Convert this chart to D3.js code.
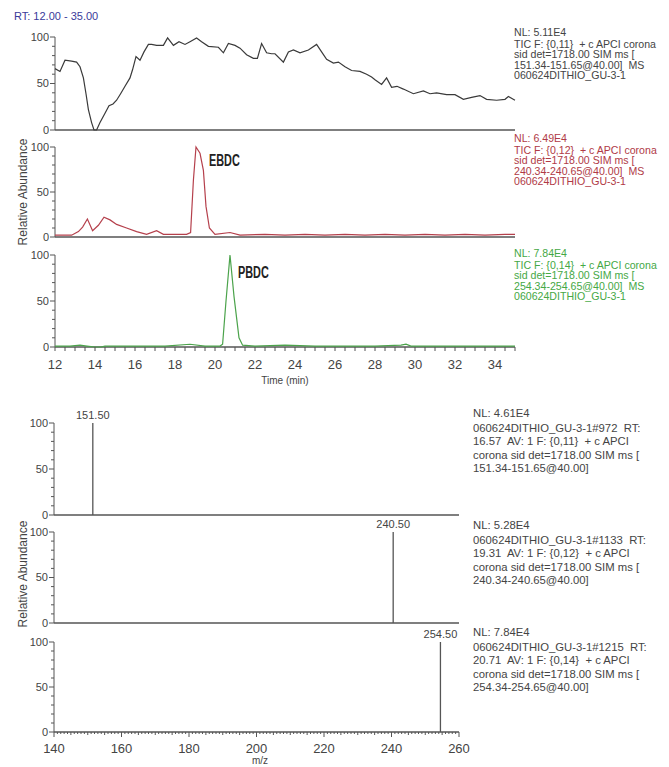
<!DOCTYPE html>
<meta charset="utf-8">
<html>
<head>
<style>
  body { margin: 0; background: #fff; }
  text { font-family: "Liberation Sans", Arial, sans-serif; white-space: pre; }
</style>
<script src="https://d3js.org/d3.v7.min.js"></script>
</head>
<body>
<script>
// ---- data ----
// TIC chromatogram (time min, relative abundance)
var ticSeries = [[12,66],[12.25,63],[12.5,75],[12.83,74],[13.08,73],[13.25,68],[13.42,56],[13.55,39],[13.67,22],[13.83,8],[13.95,0],[14.08,0],
  [14.25,8],[14.5,18],[14.7,26],[14.9,28],[15.08,32],[15.28,39],[15.5,47],[15.75,56],[15.88,65],[16.05,79],[16.25,75],[16.45,84],[16.67,92],
  [16.83,92],[17.08,91],[17.42,91],[17.63,99],[17.92,91],[18.2,95],[18.5,92],[18.75,95],[19.08,99],[19.33,95],[19.67,90],[20.17,89],[20.42,83],
  [20.67,93],[21.0,91],[21.25,88],[21.58,81],[21.92,77],[22.12,77],[22.33,93],[22.58,83],[22.83,82],[23.0,82],[23.42,73],[23.67,84],[23.92,86],
  [24.25,83],[24.67,86],[25.08,92],[25.33,84],[25.58,76],[25.92,72],[26.17,73],[26.5,68],[26.83,64],[27.25,63],[27.58,60],[27.83,57],[28.0,54],
  [28.33,49],[28.58,56],[28.83,46],[29.1,47],[29.42,44],[29.92,39],[30.42,42],[30.75,39],[31.08,40],[31.58,38],[32.0,38],[32.42,33],[32.83,35],
  [33.25,37],[33.58,33],[34.08,32],[34.5,33],[34.67,36],[35.0,32]];
// EBDC channel
var ebdcSeries = [[12,2],[12.83,2],[13.17,6],[13.38,11],[13.62,20],[13.88,7],[14.17,13],[14.45,22],[14.75,19],[15.08,14],[15.58,10],[16.08,6],
  [16.58,3],[17.08,7],[17.42,3],[18.58,3],[18.78,5],[18.92,63],[19.05,100],[19.25,93],[19.42,74],[19.55,34],[19.72,10],[20.0,3],[20.75,5],
  [21.25,2],[22.5,3],[23.5,2],[24.5,3],[25.5,2],[26.5,3],[27.5,2],[28.5,3],[29.5,2],[30.5,3],[31.5,2],[32.5,3],[33.5,2],[34.5,3],[35.0,3]];
// PBDC channel
var pbdcSeries = [[12,1],[12.75,1],[13.25,2],[13.6,1],[14.0,0],[14.3,0],[14.5,1],[16.0,1],[17.5,1],[18.75,3],[19.5,1],[20.25,1],[20.38,3],
  [20.55,50],[20.75,100],[20.95,55],[21.2,10],[21.38,2],[22.0,1],[23.5,2],[25.0,1],[26.5,1],[28.0,1],[29.3,2],[29.55,3],[29.8,1],[31.0,1],
  [33.0,1],[35.0,1]];

// mass spectra: one stick each
var specMz = [151.50, 240.50, 254.50];
var specAbund = [100, 100, 100];

// peak annotations: [panel, time, abundance, text]
var peakNotes = [[1, 19.7, 79, "EBDC"], [2, 21.15, 75, "PBDC"]];
var chromInfo = [
  ["NL: 5.11E4", "TIC F: {0,11}  + c APCI corona", "sid det=1718.00 SIM ms [", "151.34-151.65@40.00]  MS", "060624DITHIO_GU-3-1"],
  ["NL: 6.49E4", "TIC F: {0,12}  + c APCI corona", "sid det=1718.00 SIM ms [", "240.34-240.65@40.00]  MS", "060624DITHIO_GU-3-1"],
  ["NL: 7.84E4", "TIC F: {0,14}  + c APCI corona", "sid det=1718.00 SIM ms [", "254.34-254.65@40.00]  MS", "060624DITHIO_GU-3-1"]
];
var specInfo = [
  ["NL: 4.61E4", "060624DITHIO_GU-3-1#972  RT:", "16.57  AV: 1 F: {0,11}  + c APCI", "corona sid det=1718.00 SIM ms [", "151.34-151.65@40.00]"],
  ["NL: 5.28E4", "060624DITHIO_GU-3-1#1133  RT:", "19.31  AV: 1 F: {0,12}  + c APCI", "corona sid det=1718.00 SIM ms [", "240.34-240.65@40.00]"],
  ["NL: 7.84E4", "060624DITHIO_GU-3-1#1215  RT:", "20.71  AV: 1 F: {0,14}  + c APCI", "corona sid det=1718.00 SIM ms [", "254.34-254.65@40.00]"]
];
var timeTicks = [12, 14, 16, 18, 20, 22, 24, 26, 28, 30, 32, 34];
var mzTicks = [140, 160, 180, 200, 220, 240, 260];
var abundTicks = [0, 50, 100];

// ---- layout ----
var width = 669, height = 767;
var axisCol = "#555", textCol = "#444";
var seriesCol = ["#3a3a3a", "#b5404c", "#4ba34b"];
var infoCol = ["#444", "#b03a46", "#45a845"];

var svg = d3.select("body").append("svg")
  .attr("width", width).attr("height", height);

var x = d3.scaleLinear().domain([12, 35]).range([55, 515]);
var chromY = [
  d3.scaleLinear().domain([0, 100]).range([130, 37]),
  d3.scaleLinear().domain([0, 100]).range([237, 147]),
  d3.scaleLinear().domain([0, 100]).range([347, 255])
];
var xm = d3.scaleLinear().domain([140, 260]).range([54, 459]);
var specY = [
  d3.scaleLinear().domain([0, 100]).range([515, 423]),
  d3.scaleLinear().domain([0, 100]).range([623, 532]),
  d3.scaleLinear().domain([0, 100]).range([732, 642])
];

// y axis with minor ticks every 10, labels at 0/50/100
function yAxis(y, x0) {
  var g = svg.append("g").attr("stroke", axisCol);
  g.append("line").attr("x1", x0).attr("x2", x0).attr("y1", y(0)).attr("y2", y(100));
  d3.range(0, 101, 10).forEach(function(v) {
    var major = v % 50 == 0;
    g.append("line").attr("x1", x0 - (major ? 5 : 3)).attr("x2", x0)
      .attr("y1", y(v)).attr("y2", y(v));
  });
  svg.append("g").selectAll("text").data(abundTicks).enter().append("text")
    .attr("x", x0 - 6).attr("y", function(d) { return y(d); })
    .attr("dy", "0.35em").attr("text-anchor", "end")
    .attr("font-size", 11).attr("fill", textCol)
    .text(function(d) { return d; });
}

function infoBlock(lines, x0, y0, step, size, col) {
  svg.append("g").selectAll("text").data(lines).enter().append("text")
    .attr("x", x0).attr("y", function(d, i) { return y0 + i * step + (i > 0 ? 1 : 0); })
    .attr("font-size", size).attr("fill", col)
    .text(function(d) { return d; });
}

svg.append("text").attr("x", 14).attr("y", 20).attr("font-size", 11)
  .attr("fill", "#3a3a9a").text("RT: 12.00 - 35.00");

// ---- chromatograms ----
var series = [ticSeries, ebdcSeries, pbdcSeries];
series.forEach(function(s, i) {
  var y = chromY[i];
  yAxis(y, x(12));
  svg.append("line").attr("x1", x(12)).attr("x2", x(35))
    .attr("y1", y(0)).attr("y2", y(0)).attr("stroke", axisCol).attr("stroke-width", 1.3);
  var line = d3.line().x(function(d) { return x(d[0]); }).y(function(d) { return y(d[1]); });
  svg.append("path").datum(s).attr("d", line).attr("fill", "none")
    .attr("stroke", seriesCol[i]).attr("stroke-width", 1.2);
  infoBlock(chromInfo[i], 514, [36, 142, 257][i], 10.6, 10.6, infoCol[i]);
});

// condensed bold peak names
peakNotes.forEach(function(n) {
  svg.append("text")
    .attr("transform", "translate(" + x(n[1]) + "," + chromY[n[0]](n[2]) + ") scale(0.68,1)")
    .attr("font-size", 16).attr("font-weight", "bold").attr("fill", "#222")
    .text(n[3]);
});

// time axis
var tAxis = svg.append("g").attr("stroke", axisCol);
d3.range(12, 35.01, 0.5).forEach(function(t) {
  tAxis.append("line").attr("x1", x(t)).attr("x2", x(t))
    .attr("y1", chromY[2](0)).attr("y2", chromY[2](0) + 4);
});
svg.append("g").selectAll("text").data(timeTicks).enter().append("text")
  .attr("x", function(d) { return x(d); }).attr("y", 369)
  .attr("text-anchor", "middle").attr("font-size", 13).attr("fill", textCol)
  .text(function(d) { return d; });
svg.append("text").attr("x", 285).attr("y", 384).attr("text-anchor", "middle")
  .attr("font-size", 10).attr("fill", textCol).text("Time (min)");

// ---- spectra ----
specMz.forEach(function(mz, i) {
  var y = specY[i];
  yAxis(y, xm(140));
  svg.append("line").attr("x1", xm(140)).attr("x2", xm(260))
    .attr("y1", y(0)).attr("y2", y(0)).attr("stroke", axisCol).attr("stroke-width", 1.3);
  svg.append("line").attr("x1", xm(mz)).attr("x2", xm(mz))
    .attr("y1", y(0)).attr("y2", y(specAbund[i])).attr("stroke", axisCol).attr("stroke-width", 1.3);
  svg.append("text").attr("x", xm(mz)).attr("y", y(specAbund[i]) - 4)
    .attr("text-anchor", "middle").attr("font-size", 11).attr("fill", textCol)
    .text(mz.toFixed(2));
  infoBlock(specInfo[i], 473, [417, 529, 636][i], 13.5, 11.3, textCol);
});

var mAxis = svg.append("g").attr("stroke", axisCol);
d3.range(140, 260.01, 1).forEach(function(m) {
  var len = m % 20 == 0 ? 5 : (m % 5 == 0 ? 3 : 2);
  mAxis.append("line").attr("x1", xm(m)).attr("x2", xm(m))
    .attr("y1", specY[2](0)).attr("y2", specY[2](0) + len);
});
svg.append("g").selectAll("text").data(mzTicks).enter().append("text")
  .attr("x", function(d) { return xm(d); }).attr("y", 753)
  .attr("text-anchor", "middle").attr("font-size", 13).attr("fill", textCol)
  .text(function(d) { return d; });
svg.append("text").attr("x", 260).attr("y", 764).attr("text-anchor", "middle")
  .attr("font-size", 10).attr("fill", textCol).text("m/z");

// y titles
[192, 574].forEach(function(cy) {
  svg.append("text").attr("transform", "translate(27," + cy + ") rotate(-90)")
    .attr("text-anchor", "middle").attr("font-size", 12).attr("fill", textCol)
    .text("Relative Abundance");
});
</script>
</body>
</html>
